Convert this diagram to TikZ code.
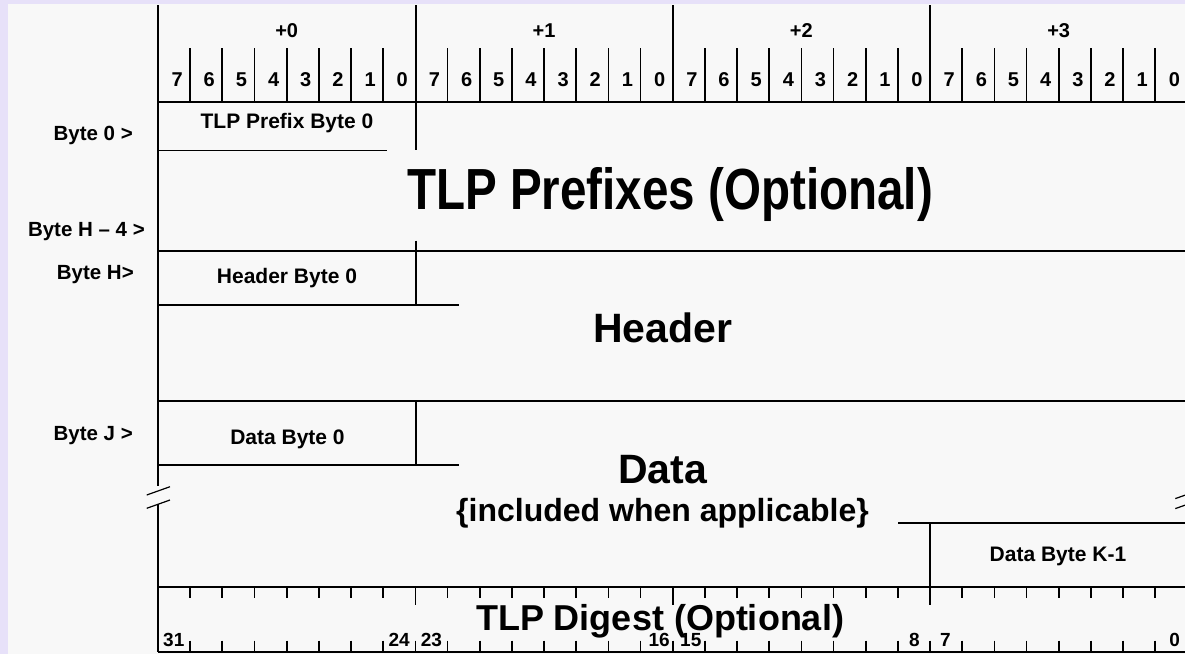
\documentclass[tikz,border=0pt]{standalone}
\usepackage{fontspec}
\setmainfont{Liberation Sans}
\usepackage{xcolor}
\usepackage{tikz}
\definecolor{tlplav}{HTML}{E7E1F9}
\definecolor{tlppaper}{HTML}{F8F8F8}
\definecolor{tlpink}{HTML}{000000}
\begin{document}
\begin{tikzpicture}[x=1pt,y=-1pt,
  rule/.style={draw=tlpink,line width=1.7pt},
  breakmark/.style={draw=tlpink,line width=1.2pt},
  bytehd/.style={font=\fontsize{20}{24}\selectfont\bfseries,anchor=base,inner sep=0pt},
  bitno/.style={font=\fontsize{20}{24}\selectfont\bfseries,anchor=base,inner sep=0pt},
  rowlbl/.style={font=\fontsize{20.5}{24}\selectfont\bfseries,anchor=base east,inner sep=0pt},
  field/.style={font=\fontsize{21}{25}\selectfont\bfseries,anchor=base,inner sep=0pt},
  bigfield/.style={font=\fontsize{41}{48}\selectfont\bfseries,anchor=base,inner sep=0pt},
  note/.style={font=\fontsize{32}{38}\selectfont\bfseries,anchor=base,inner sep=0pt},
  digno/.style={font=\fontsize{19}{23}\selectfont\bfseries,inner sep=0pt}
]
\useasboundingbox (0,0) rectangle (1185,654);
\fill[tlplav] (0,0) rectangle (1185,654);
\fill[tlppaper] (7.5,4) rectangle (1185,654);
\clip (0,0) rectangle (1185,654);

\foreach \b in {0,...,3}
  \node[bytehd] (byte\b) at ({158+(\b+0.5)*257.33},37) {+\b};
\foreach \k in {0,...,31}{
  \pgfmathtruncatemacro{\bitlab}{7-mod(\k,8)}
  \node[bitno] (bit\k) at ({158+(\k+0.5)*32.17+3},86) {\bitlab};
}
\foreach \k in {1,...,31}
  \draw[rule] ({158+\k*32.17},48) -- ({158+\k*32.17},101.7);
\foreach \k in {16,24}
  \draw[rule] ({158+\k*32.17},5) -- ({158+\k*32.17},101.7);
\draw[rule] (415.7,5) -- (415.7,150);
\draw[rule] (158,5) -- (158,486);
\draw[rule] (158,504) -- (158,652);
\draw[rule] (158,101.7) -- (1187,101.7);

\node[rowlbl] (row0) at (133,140.7) {Byte 0 >};
\node[field] (pfx0) at (287,128) {TLP Prefix Byte 0};
\draw[rule] (158,150.5) -- (386.7,150.5);
\node[bigfield,font=\fontsize{58}{64}\selectfont\bfseries,xscale=0.82] (pfx) at (670,209) {TLP Prefixes (Optional)};

\node[rowlbl] (rowh4) at (145,236) {Byte H – 4 >};
\node[rowlbl] (rowh) at (134,279) {Byte H>};
\draw[rule] (158,251) -- (1187,251);
\draw[rule] (415.7,240.7) -- (415.7,305);
\node[field] (hdr0) at (287,283.3) {Header Byte 0};
\draw[rule] (158,305) -- (459,305);
\node[bigfield] (hdr) at (662.5,342.7) {Header};

\draw[rule] (158,400.7) -- (1187,400.7);
\node[rowlbl] (rowj) at (133,440) {Byte J >};
\draw[rule] (415.7,400.7) -- (415.7,465);
\node[field] (dat0) at (287.5,444) {Data Byte 0};
\draw[rule] (158,465) -- (459,465);
\node[bigfield] (dat) at (662.5,483.3) {Data};
\node[note] (datnote) at (662.5,521.7) {\{included when applicable\}};

\draw[breakmark] (146.7,495) -- (170,486.7);
\draw[breakmark] (146.7,508.3) -- (170,500);
\draw[breakmark] (1175.3,498.6) -- (1198.7,490.3);
\draw[breakmark] (1175.3,508.6) -- (1198.7,500.3);

\draw[rule] (898,522.7) -- (1187,522.7);
\draw[rule] (930,522.7) -- (930,587.3);
\node[field] (datk) at (1058,561.7) {Data Byte K-1};

\draw[rule] (158,587.3) -- (1187,587.3);
\foreach \k in {1,...,31}{
  \draw[rule] ({158+\k*32.17},587.3) -- ({158+\k*32.17},598);
  \draw[rule] ({158+\k*32.17},640.7) -- ({158+\k*32.17},651.7);
}
\foreach \k in {8,16,24}
  \draw[rule] ({158+\k*32.17},587.3) -- ({158+\k*32.17},605);
\draw[rule] (158,651.7) -- (1187,651.7);
\node[bigfield,font=\fontsize{36}{42}\selectfont\bfseries] (dig) at (660,630) {TLP Digest (Optional)};
\foreach \n/\x/\a in {31/163/west,24/410/east,23/420.7/west,16/670/east,15/680/west,8/920/east,7/940/west,0/1180/east}
  \node[digno,anchor=base \a] (dig\n) at (\x,646.7) {\n};
\end{tikzpicture}
\end{document}
